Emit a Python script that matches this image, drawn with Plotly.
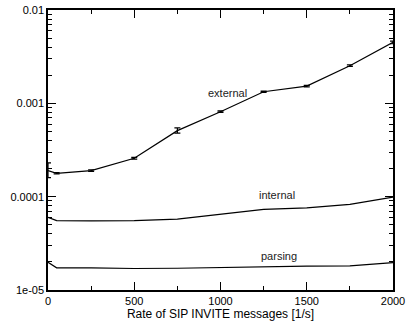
import math
import plotly.graph_objects as go

rate = [0, 50, 250, 500, 750, 1000, 1250, 1500, 1750, 2000]
external = [1.9e-4, 1.78e-4, 1.9e-4, 2.58e-4, 5.1e-4, 8.14e-4, 1.33e-3, 1.53e-3, 2.53e-3, 4.5e-3]
external_err_plus = [0.4e-4, 0.03e-4, 0.04e-4, 0.06e-4, 0.35e-4, 0.15e-4, 0.02e-3, 0.03e-3, 0.05e-3, 0.15e-3]
external_err_minus = [0.3e-4, 0.03e-4, 0.04e-4, 0.06e-4, 0.3e-4, 0.15e-4, 0.02e-3, 0.03e-3, 0.05e-3, 0.15e-3]
internal = [6.0e-5, 5.53e-5, 5.5e-5, 5.55e-5, 5.75e-5, 6.5e-5, 7.3e-5, 7.6e-5, 8.28e-5, 9.9e-5]
parsing = [1.98e-5, 1.73e-5, 1.73e-5, 1.7e-5, 1.71e-5, 1.74e-5, 1.79e-5, 1.8e-5, 1.81e-5, 1.96e-5]

labels = ["external", "internal", "parsing"]
label_x = [1043, 1328, 1342]
label_y = [1.29e-3, 1.04e-4, 2.31e-5]

ytick_vals = [1e-5, 1e-4, 1e-3, 1e-2]
ytick_text = ["1e-05", "0.0001", "0.001", "0.01"]

FONT = "Liberation Sans, Arial, sans-serif"

fig = go.Figure()
fig.add_trace(go.Scatter(
    x=rate, y=external, mode="lines", line=dict(color="black", width=1.2),
    error_y=dict(type="data", array=external_err_plus, arrayminus=external_err_minus,
                 symmetric=False, color="black", thickness=1.2, width=3),
    showlegend=False))
fig.add_trace(go.Scatter(x=rate, y=internal, mode="lines",
                         line=dict(color="black", width=1.2), showlegend=False))
fig.add_trace(go.Scatter(x=rate, y=parsing, mode="lines",
                         line=dict(color="black", width=1.2), showlegend=False))

for t, xv, yv in zip(labels, label_x, label_y):
    fig.add_annotation(x=xv, y=math.log10(yv), text=t, showarrow=False,
                       font=dict(family=FONT, size=11, color="#222"))

fig.update_layout(
    width=408, height=324,
    margin=dict(l=48, r=15, t=10, b=34),
    plot_bgcolor="white", paper_bgcolor="white",
    font=dict(family=FONT, size=11, color="black"),
    xaxis=dict(range=[0, 2000], dtick=500, tick0=0, ticks="inside", ticklen=8,
               tickwidth=1, tickcolor="black", showline=True, linecolor="black",
               linewidth=1.5, mirror="allticks", showgrid=False, zeroline=False,
               automargin=False,
               minor=dict(ticks="inside", ticklen=4, dtick=250, tickcolor="black", showgrid=False),
               title=dict(text="Rate of SIP INVITE messages [1/s]", standoff=3,
                          font=dict(size=12)),
               tickfont=dict(size=11)),
    yaxis=dict(type="log", range=[-5, -2], ticks="inside", ticklen=8,
               tickwidth=1, tickcolor="black", showline=True, linecolor="black",
               linewidth=1.5, mirror="allticks", showgrid=False, zeroline=False,
               automargin=False,
               tickvals=ytick_vals, ticktext=ytick_text,
               minor=dict(ticks="inside", ticklen=4, dtick="D1", tickcolor="black", showgrid=False),
               tickfont=dict(size=11)),
)

fig.write_html("out.html")
